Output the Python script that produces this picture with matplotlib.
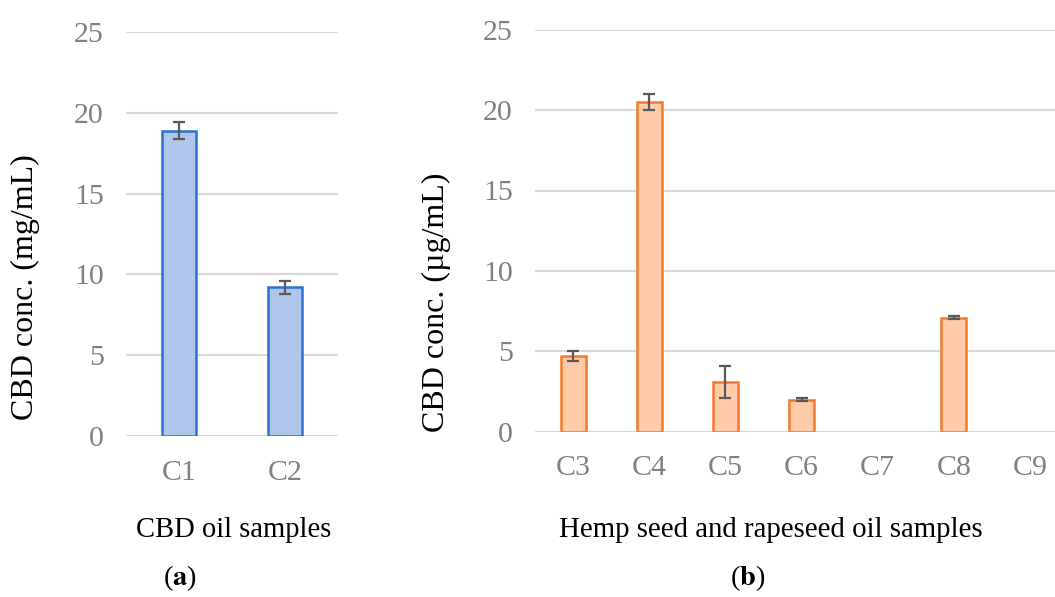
import matplotlib
matplotlib.use("Agg")
import matplotlib.pyplot as plt
import numpy as np

# Data
cats_a = ["C1", "C2"]
vals_a = [18.9, 9.2]
err_a = [0.5, 0.4]

cats_b = ["C3", "C4", "C5", "C6", "C7", "C8", "C9"]
vals_b = [4.7, 20.5, 3.1, 2.0, 0.0, 7.1, 0.0]
err_b = [0.3, 0.5, 1.0, 0.08, 0.0, 0.08, 0.0]

yticks = [0, 5, 10, 15, 20, 25]

plt.rcParams['font.family'] = ['Liberation Serif', 'DejaVu Serif']
plt.rcParams['mathtext.fontset'] = 'stix'

W, H = 1055, 597
fig = plt.figure(figsize=(W / 100, H / 100), dpi=100)

tick_color = '#808080'
grid_color = '#d9d9d9'
err_color = '#595959'
TICK_FS = 21.5

def style(ax, ncat):
    ax.set_ylim(0, 25)
    ax.set_yticks(yticks)
    ax.set_xlim(-0.5, ncat - 0.5)
    ax.grid(axis='y', color=grid_color, linewidth=1.5, zorder=0)
    ax.set_axisbelow(True)
    for s in ax.spines.values():
        s.set_visible(False)
    ax.tick_params(axis='both', length=0, labelsize=TICK_FS, colors=tick_color)
    ax.tick_params(axis='y', pad=16)
    ax.tick_params(axis='x', pad=17)

def draw(ax, cats, vals, errs, fc, ec, width):
    x = np.arange(len(cats))
    lws = [1.8 if v > 0 else 0 for v in vals]
    ax.bar(x, vals, width=width, color=fc, edgecolor=ec, linewidth=lws, zorder=2)
    xe = [xi for xi, e in zip(x, errs) if e > 0]
    ve = [v for v, e in zip(vals, errs) if e > 0]
    ee = [e for e in errs if e > 0]
    ax.errorbar(xe, ve, yerr=ee, fmt='none', ecolor=err_color, elinewidth=1.6,
                capsize=4.5, capthick=1.6, zorder=3)
    ax.set_xticks(x)
    ax.set_xticklabels(cats)
    style(ax, len(cats))

# Panel a
ax1 = fig.add_axes([126 / W, 1 - 436 / H, 212 / W, 404 / H])
draw(ax1, cats_a, vals_a, err_a, '#adc6e9', '#2a72d0', 0.32)

# Panel b
ax2 = fig.add_axes([535 / W, 1 - 431.7 / H, 533 / W, 402 / H])
draw(ax2, cats_b, vals_b, err_b, '#ffcaa8', '#f37b2c', 0.33)

# Y labels
fig.text(25 / W, 1 - 287 / H, "CBD conc. (mg/mL)", rotation=90, ha='center', va='center',
         fontsize=23, color='black')
fig.text(436 / W, 1 - 302 / H, "CBD conc. (\u00b5g/mL)", rotation=90, ha='center', va='center',
         fontsize=23, color='black')

# Captions
fig.text(234 / W, 1 - 530 / H, "CBD oil samples", ha='center', va='center', fontsize=20.6)
fig.text(771 / W, 1 - 530 / H, "Hemp seed and rapeseed oil samples", ha='center', va='center', fontsize=20.8)
fig.text(180 / W, 1 - 578 / H, r"($\mathbf{a}$)", ha='center', va='center', fontsize=20.5)
fig.text(748 / W, 1 - 578 / H, r"($\mathbf{b}$)", ha='center', va='center', fontsize=20.5)

fig.savefig("out.png", dpi=100)
